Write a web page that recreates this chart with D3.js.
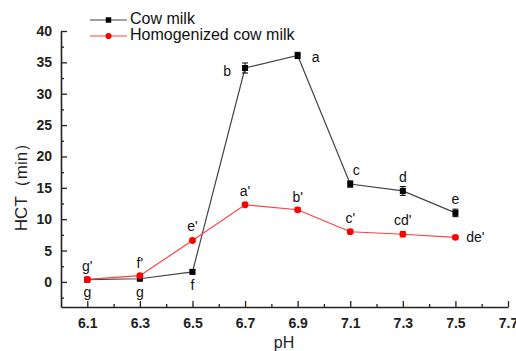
<!DOCTYPE html>
<html>
<head>
<meta charset="utf-8">
<script src="https://cdn.jsdelivr.net/npm/d3@7/dist/d3.min.js"></script>
<style>
  html, body { margin: 0; padding: 0; background: #fff; }
  svg { display: block; font-family: "Liberation Sans", Arial, sans-serif; }
</style>
</head>
<body>
<svg id="chart" width="516" height="351"></svg>
<script>
// pH values on the x axis
const phLevels = [6.1, 6.3, 6.5, 6.7, 6.9, 7.1, 7.3, 7.5];

// Heat coagulation time (min), means and standard deviations
const cowMilk      = [0.35, 0.5, 1.6, 34.1, 36.1, 15.6, 14.5, 11.0];
const cowMilkErr   = [0.2, 0.2, 0.3, 0.8, 0.5, 0.5, 0.7, 0.6];
const cowMilkSig   = ["g", "g", "f", "b", "a", "c", "d", "e"];

const homMilk      = [0.4, 1.0, 6.6, 12.3, 11.5, 8.0, 7.6, 7.1];
const homMilkErr   = [0.15, 0.2, 0.2, 0.3, 0.3, 0.3, 0.4, 0.3];
const homMilkSig   = ["g'", "f'", "e'", "a'", "b'", "c'", "cd'", "de'"];

const seriesNames  = ["Cow milk", "Homogenized cow milk"];

const xTicks = [6.1, 6.3, 6.5, 6.7, 6.9, 7.1, 7.3, 7.5, 7.7];
const yTicks = [0, 5, 10, 15, 20, 25, 30, 35, 40];

const svg = d3.select("#chart");

const x = d3.scaleLinear().domain([6.0, 7.7]).range([61, 508]);
const y = d3.scaleLinear().domain([-4, 40]).range([307, 31]);

const axisColor = "#222";

// x axis with inward ticks
const gx = svg.append("g").attr("transform", `translate(0,${y(-4)})`);
gx.call(d3.axisBottom(x).tickValues(xTicks).tickFormat(d3.format(".1f"))
    .tickSizeInner(-6).tickSizeOuter(0).tickPadding(11));
const gxm = svg.append("g").attr("transform", `translate(0,${y(-4)})`);
gxm.call(d3.axisBottom(x).tickValues(d3.range(6.2, 7.65, 0.2)).tickFormat("")
    .tickSizeInner(-3).tickSizeOuter(0));
gxm.select(".domain").remove();

// y axis with inward ticks
const gy = svg.append("g").attr("transform", `translate(${x(6.0)},0)`);
gy.call(d3.axisLeft(y).tickValues(yTicks).tickFormat(d3.format("d"))
    .tickSizeInner(-6).tickSizeOuter(0).tickPadding(9));
const gym = svg.append("g").attr("transform", `translate(${x(6.0)},0)`);
gym.call(d3.axisLeft(y).tickValues(d3.range(-2.5, 40, 5)).tickFormat("")
    .tickSizeInner(-3).tickSizeOuter(0));
gym.select(".domain").remove();

svg.selectAll(".domain").attr("stroke", axisColor).attr("stroke-width", 1.6);
svg.selectAll(".tick line").attr("stroke", axisColor).attr("stroke-width", 1.3);
svg.selectAll(".tick text").attr("fill", "#222").style("font-size", "14px")
   .style("font-family", "'Liberation Sans', Arial, sans-serif").style("font-weight", "bold");

// axis titles
svg.append("text").attr("x", 284).attr("y", 348).attr("text-anchor", "middle")
  .style("font-size", "16px").attr("fill", "#222").text("pH");
svg.append("text")
  .attr("transform", `translate(27,${183}) rotate(-90)`)
  .attr("text-anchor", "middle").style("font-size", "17px").attr("fill", "#222")
  .text("HCT（min）");

function drawSeries(vals, errs, lineColor, markColor, shape) {
  const pts = phLevels.map((p, i) => ({ p, v: vals[i], e: errs[i] }));
  svg.append("path").datum(pts)
    .attr("fill", "none").attr("stroke", lineColor).attr("stroke-width", 1.2)
    .attr("d", d3.line().x(d => x(d.p)).y(d => y(d.v)));
  const eb = svg.append("g").attr("stroke", markColor).attr("stroke-width", 1);
  pts.forEach(d => {
    eb.append("line").attr("x1", x(d.p)).attr("x2", x(d.p))
      .attr("y1", y(d.v - d.e)).attr("y2", y(d.v + d.e));
    [d.v - d.e, d.v + d.e].forEach(v => {
      eb.append("line").attr("x1", x(d.p) - 3).attr("x2", x(d.p) + 3)
        .attr("y1", y(v)).attr("y2", y(v));
    });
  });
  const sym = d3.symbol().type(shape).size(36);
  svg.append("g").selectAll("path").data(pts).join("path")
    .attr("transform", d => `translate(${x(d.p)},${y(d.v)})`)
    .attr("d", sym).attr("fill", markColor);
}

drawSeries(cowMilk, cowMilkErr, "#444", "#000", d3.symbolSquare);
drawSeries(homMilk, homMilkErr, "#ff4040", "#ff0000", d3.symbolCircle);

// significance letters: [dx, dy] offsets in pixels from each point
const cowOffsets = [[0, 14], [0, 15], [0, 14], [-18, 4], [18, 3], [6, -13], [0, -13], [0, -13]];
const homOffsets = [[0, -12], [0, -11], [0, -13], [0, -12], [0, -11], [0, -12], [0, -13], [20, 1]];

function drawLetters(vals, sig, offs) {
  svg.append("g").selectAll("text").data(vals).join("text")
    .attr("x", (v, i) => x(phLevels[i]) + offs[i][0])
    .attr("y", (v, i) => y(v) + offs[i][1])
    .attr("text-anchor", "middle").attr("dominant-baseline", "middle")
    .style("font-size", "14px").attr("fill", "#111")
    .text((v, i) => sig[i]);
}
drawLetters(cowMilk, cowMilkSig, cowOffsets);
drawLetters(homMilk, homMilkSig, homOffsets);

// legend
const legend = svg.append("g");
const legendStyles = [
  { line: "#444", mark: "#000", shape: d3.symbolSquare },
  { line: "#ff4040", mark: "#ff0000", shape: d3.symbolCircle }
];
seriesNames.forEach((name, i) => {
  const ly = 20 + i * 16;
  const st = legendStyles[i];
  legend.append("line").attr("x1", 90).attr("x2", 127).attr("y1", ly).attr("y2", ly)
    .attr("stroke", st.line).attr("stroke-width", 1.2);
  legend.append("path").attr("transform", `translate(108.5,${ly})`)
    .attr("d", d3.symbol().type(st.shape).size(30)).attr("fill", st.mark);
  legend.append("text").attr("x", 130).attr("y", ly).attr("dominant-baseline", "middle")
    .style("font-size", "16px").attr("fill", "#111").text(name);
});
</script>
</body>
</html>
